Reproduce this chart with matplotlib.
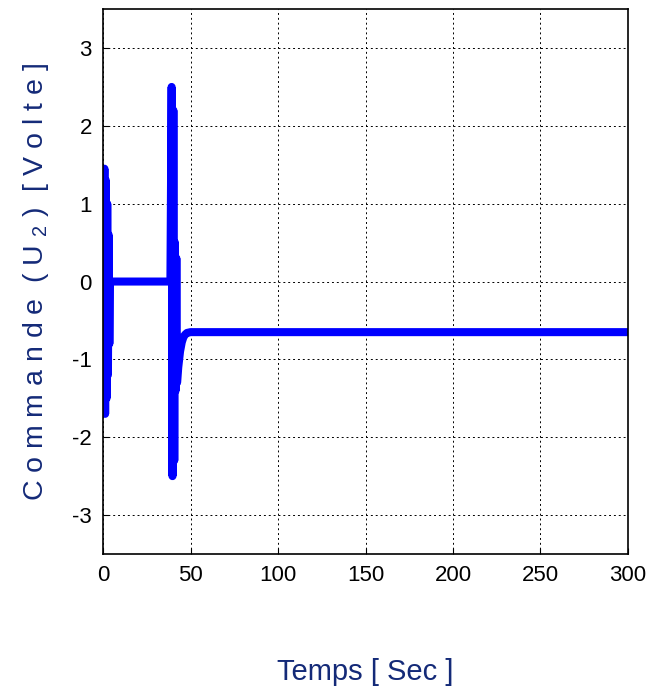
import numpy as np
import matplotlib.pyplot as plt
from matplotlib import font_manager

# commande U2
t_sig = [0.0, 0.8, 1.2, 1.6, 2.0, 2.4, 2.8, 3.2, 3.6, 4.0,
         10.0, 20.0, 30.0, 38.5, 39.2, 39.7, 40.2, 40.7, 41.1, 41.5, 41.9,
         42.3, 43.0, 44.0, 45.0, 46.0, 47.0, 48.0, 50.0, 60.0, 100.0, 200.0, 300.0]
u_sig = [0.0, 1.45, -1.7, 1.3, -1.5, 1.0, -1.2, 0.6, -0.8, 0.0,
         0.0, 0.0, 0.0, 0.0, 2.5, -2.5, 2.2, -2.3, 0.5, -1.4, 0.3,
         -1.3, -1.1, -0.9, -0.78, -0.71, -0.68, -0.66, -0.65, -0.65, -0.65, -0.65, -0.65]

y_ticks = [-3, -2, -1, 0, 1, 2, 3]
x_ticks = [0, 50, 100, 150, 200, 250, 300]

names = [f.name for f in font_manager.fontManager.ttflist]
fnt = 'Liberation Sans Narrow' if 'Liberation Sans Narrow' in names else 'Liberation Sans'
plt.rcParams['font.family'] = [fnt, 'DejaVu Sans']
plt.rcParams['mathtext.fontset'] = 'custom'
plt.rcParams['mathtext.rm'] = fnt
plt.rcParams['mathtext.it'] = fnt
plt.rcParams['axes.unicode_minus'] = False

fig = plt.figure(figsize=(6.63, 7.0), dpi=100)
ax = fig.add_axes([0.1554, 0.2086, 0.7918, 0.7784])
ax.plot(t_sig, u_sig, color='#0000ff', lw=5.8, solid_capstyle='round', solid_joinstyle='round')

ax.set_xlim(0, 300)
ax.set_ylim(-3.5, 3.5)
ax.set_xticks(x_ticks)
ax.set_yticks(y_ticks)
ax.tick_params(direction='in', length=4, labelsize=16, colors='black', pad=8)
ax.grid(True, color='black', linestyle=(0, (2, 3)), lw=0.7)
for s in ax.spines.values():
    s.set_linewidth(1.2)

lab_col = '#142a78'
ax.set_xlabel('Temps [ Sec ]', fontsize=21, color=lab_col)
ax.xaxis.set_label_coords(0.5, -0.19)
ax.set_ylabel('C o m m a n d e  ( U $_{2}$ )  [ V o l t e ]', fontsize=20.5, color=lab_col)
ax.yaxis.set_label_coords(-0.10, 0.5)

fig.savefig('out.png', dpi=100)
